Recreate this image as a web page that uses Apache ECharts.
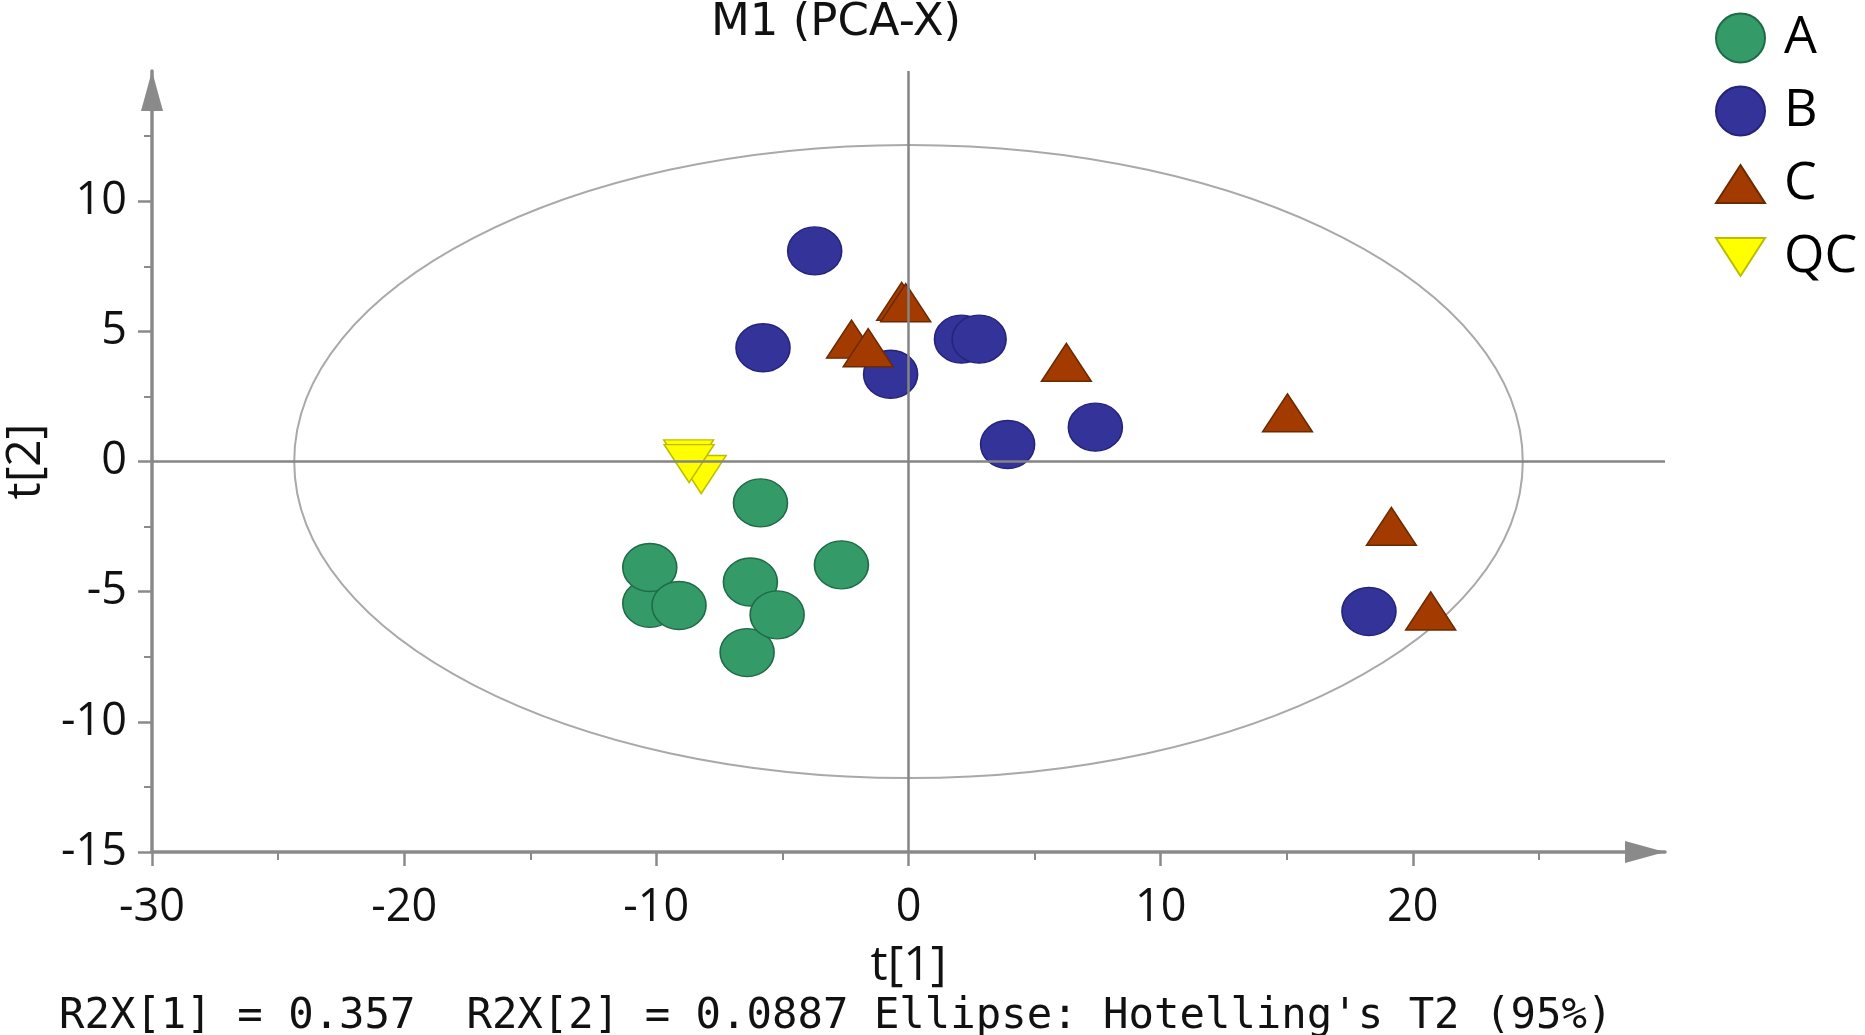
<!DOCTYPE html>
<html>
<head>
<meta charset="utf-8">
<style>
html,body{margin:0;padding:0;background:#fff;}
#chart{width:1865px;height:1035px;}
</style>
<script src="https://cdn.jsdelivr.net/npm/echarts@6.0.0/dist/echarts.min.js"></script>
</head>
<body>
<div id="chart"></div>
<script>
// ---- data (t[1], t[2]) ----
const groupA = [[-10.26,-5.45],[-6.40,-7.34],[-6.27,-4.63],[-5.21,-5.89],[-10.26,-4.07],[-9.10,-5.53],[-5.87,-1.59],[-2.66,-3.97]];
const groupB = [[-3.72,8.09],[-5.77,4.37],[-0.71,3.35],[2.10,4.70],[2.80,4.70],[3.93,0.65],[7.41,1.32],[18.26,-5.76]];
const groupC = [[-0.27,6.15],[-0.11,6.10],[-2.26,4.70],[-1.60,4.37],[6.26,3.81],[15.03,1.87],[19.15,-2.49],[20.71,-5.74]];
const groupQC = [[-8.22,-0.50],[-8.72,0.10],[-8.70,-0.08]];
// Hotelling's T2 ellipse: center x, center y, semi-axis t[1], semi-axis t[2]
const ellipse95 = [[0, 0, 24.36, 12.16]];
const xTickLabels = [-30,-20,-10,0,10,20];
const yTickLabels = [-15,-10,-5,0,5,10];
const legendNames = ['A','B','C','QC'];
const footerText = "R2X[1] = 0.357  R2X[2] = 0.0887 Ellipse: Hotelling's T2 (95%)";

const ELLIPSE = 'path://M0,50A50,50,0,1,1,100,50A50,50,0,1,1,0,50Z';
const TRI_UP = 'path://M0,0M55,49M3,43.5L27.5,5.5L52,43.5Z';
const TRI_DOWN = 'path://M0,0M55,49M3,5.5L52,5.5L27.5,43.5Z';

const axisGray = '#8a8a8a';
const font = 'Open Sans';

const chart = echarts.init(document.getElementById('chart'));
chart.setOption({
  animation: false,
  backgroundColor: '#ffffff',
  title: [
    { text: 'M1 (PCA-X)', left: 836, top: 0, textAlign: 'center', padding: 0,
      textStyle: { fontFamily: 'DejaVu Sans', fontSize: 45, fontWeight: 'normal', color: '#111', lineHeight: 46 } },
    { text: footerText, left: 59, top: 996, padding: 0,
      textStyle: { fontFamily: 'DejaVu Sans Mono', fontSize: 42.3, fontWeight: 'normal', color: '#111', lineHeight: 42 } }
  ],
  legend: {
    data: legendNames, orient: 'vertical', left: 1712, top: 12, padding: 0,
    itemWidth: 55, itemHeight: 49, itemGap: 21,
    textStyle: { fontFamily: font, fontSize: 52, color: '#000', lineHeight: 49, padding: [0,0,0,11] }
  },
  grid: { left: 152, right: 200, top: 71, bottom: 183, containLabel: false, outerBoundsMode: 'none' },
  xAxis: {
    type: 'value', min: -30, max: 30, interval: 10,
    name: 't[1]', nameLocation: 'middle', nameGap: 90,
    nameTextStyle: { fontFamily: font, fontSize: 48, color: '#111', lineHeight: 48 },
    axisLine: { onZero: false, lineStyle: { color: axisGray, width: 3.5 },
      symbol: ['none','triangle'], symbolSize: [22, 40], symbolOffset: [0, -20] },
    axisTick: { length: 14, lineStyle: { color: axisGray, width: 2.5 }, customValues: xTickLabels },
    minorTick: { show: true, splitNumber: 2, length: 8, lineStyle: { color: axisGray, width: 2 } },
    axisLabel: { customValues: xTickLabels, margin: 34, fontFamily: font, fontSize: 45, color: '#111',
      formatter: v => (xTickLabels.indexOf(v) >= 0 ? String(v) : '') },
    splitLine: { show: false }
  },
  yAxis: {
    type: 'value', min: -15, max: 15, interval: 5,
    name: 't[2]', nameLocation: 'middle', nameGap: 102, nameRotate: 90,
    nameTextStyle: { fontFamily: font, fontSize: 48, color: '#111', lineHeight: 48 },
    axisLine: { onZero: false, lineStyle: { color: axisGray, width: 3.5 },
      symbol: ['none','triangle'], symbolSize: [22, 40], symbolOffset: [0, -20] },
    axisTick: { length: 14, lineStyle: { color: axisGray, width: 2.5 }, customValues: yTickLabels },
    minorTick: { show: true, splitNumber: 2, length: 8, lineStyle: { color: axisGray, width: 2 } },
    axisLabel: { customValues: yTickLabels, margin: 25, fontFamily: font, fontSize: 45, color: '#111',
      formatter: v => (yTickLabels.indexOf(v) >= 0 ? String(v) : '') },
    splitLine: { show: false }
  },
  series: [
    {
      type: 'custom', name: 'ellipse', silent: true, clip: false, z: 1,
      data: ellipse95,
      renderItem: function (params, api) {
        const c = api.coord([api.value(0), api.value(1)]);
        const e = api.coord([api.value(0) + api.value(2), api.value(1) + api.value(3)]);
        return {
          type: 'ellipse',
          shape: { cx: c[0], cy: c[1], rx: Math.abs(e[0] - c[0]), ry: Math.abs(e[1] - c[1]) },
          style: { fill: 'none', stroke: '#a9a9a9', lineWidth: 2 }
        };
      },
      markLine: {
        silent: true, symbol: 'none', label: { show: false },
        lineStyle: { color: '#858585', width: 2.5, type: 'solid' },
        data: [{ xAxis: 0 }, { yAxis: 0 }]
      }
    },
    { type: 'scatter', name: 'A', data: groupA, symbol: ELLIPSE, symbolSize: [54, 48], z: 3,
      itemStyle: { color: '#349a68', borderColor: '#1f6b46', borderWidth: 1.5, opacity: 1 } },
    { type: 'scatter', name: 'B', data: groupB, symbol: ELLIPSE, symbolSize: [54, 48], z: 3,
      itemStyle: { color: '#333399', borderColor: '#24247a', borderWidth: 1.5, opacity: 1 } },
    { type: 'scatter', name: 'C', data: groupC, symbol: TRI_UP, symbolSize: [56, 49], z: 3,
      itemStyle: { color: '#a33b00', borderColor: '#6b2a00', borderWidth: 1.5, opacity: 1 } },
    { type: 'scatter', name: 'QC', data: groupQC, symbol: TRI_DOWN, symbolSize: [56, 49], z: 3,
      itemStyle: { color: '#ffff00', borderColor: '#bdbd00', borderWidth: 1.5, opacity: 1 } }
  ]
});
</script>
</body>
</html>
